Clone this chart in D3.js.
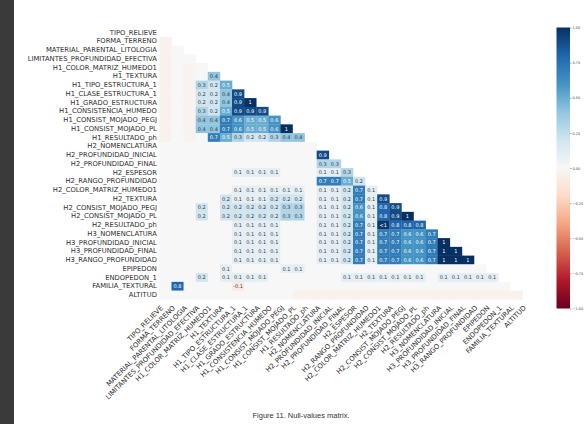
<!DOCTYPE html>
<html><head><meta charset="utf-8">
<script src="https://cdn.jsdelivr.net/npm/d3@7"></script>
<style>
html,body{margin:0;padding:0;background:#fff;}
svg{display:block;}
</style></head>
<body>
<svg id="chart" width="585" height="424"></svg>
<script>
// ---- data ----
const labels = [
  "TIPO_RELIEVE","FORMA_TERRENO","MATERIAL_PARENTAL_LITOLOGIA","LIMITANTES_PROFUNDIDAD_EFECTIVA",
  "H1_COLOR_MATRIZ_HUMEDO1","H1_TEXTURA","H1_TIPO_ESTRUCTURA_1","H1_CLASE_ESTRUCTURA_1",
  "H1_GRADO_ESTRUCTURA","H1_CONSISTENCIA_HUMEDO","H1_CONSIST_MOJADO_PEGJ","H1_CONSIST_MOJADO_PL",
  "H1_RESULTADO_ph","H2_NOMENCLATURA","H2_PROFUNDIDAD_INICIAL","H2_PROFUNDIDAD_FINAL",
  "H2_ESPESOR","H2_RANGO_PROFUNDIDAD","H2_COLOR_MATRIZ_HUMEDO1","H2_TEXTURA",
  "H2_CONSIST_MOJADO_PEGJ","H2_CONSIST_MOJADO_PL","H2_RESULTADO_ph","H3_NOMENCLATURA",
  "H3_PROFUNDIDAD_INICIAL","H3_PROFUNDIDAD_FINAL","H3_RANGO_PROFUNDIDAD","EPIPEDON",
  "ENDOPEDON_1","FAMILIA_TEXTURAL","ALTITUD"
];

// lower triangle of the nullity correlation matrix: row i holds columns 0..i-1
const nullityCorr = [
  [],
  [-0.04],
  [-0.04,0],
  [-0.04,0,0],
  [-0.04,0,-0.03,0],
  [-0.04,0,-0.03,0,0.4],
  [-0.04,0,-0.03,0.3,0.2,0.5],
  [-0.04,0,-0.03,0.2,0.2,0.4,0.9],
  [-0.04,0,-0.03,0.2,0.2,0.4,0.9,1],
  [-0.04,0,-0.03,0.3,0.2,0.5,0.9,0.9,0.9],
  [-0.04,0,-0.03,0.4,0.4,0.7,0.6,0.5,0.5,0.6],
  [-0.04,0,-0.03,0.4,0.4,0.7,0.6,0.5,0.5,0.6,1],
  [-0.04,0,-0.03,0,0.7,0.5,0.3,0.2,0.2,0.3,0.4,0.4],
  [0,0,0,0,0,0,0,0,0,0,0,0,0],
  [0,0,0,0,0,0,0,0,0,0,0,0,0,0.9],
  [0,0,0,0,0,0,0,0,0,0,0,0,0,0.3,0.3],
  [0,0,0,0,0,0,0.1,0.1,0.1,0.1,0,0,0,0.1,0.1,0.3],
  [0,0,0,0,0,0,0,0,0,0,0,0,0,0.7,0.7,0.5,0.2],
  [0,0,0,0,0,0,0.1,0.1,0.1,0.1,0.1,0.1,0,0.1,0.1,0.2,0.7,0.1],
  [0,0,0,0,0,0.2,0.1,0.1,0.1,0.2,0.2,0.2,0,0.1,0.1,0.2,0.7,0.1,0.9],
  [0,0,0,0.2,0,0.2,0.2,0.2,0.2,0.2,0.3,0.3,0,0.1,0.1,0.2,0.6,0.1,0.8,0.9],
  [0,0,0,0.2,0,0.2,0.2,0.2,0.2,0.2,0.3,0.3,0,0.1,0.1,0.2,0.6,0.1,0.8,0.9,1],
  [0,0,0,0,0,0,0.1,0.1,0.1,0.1,0,0,0,0.1,0.1,0.2,0.7,0.1,0.97,0.8,0.8,0.8],
  [0,0,0,0,0,0,0.1,0.1,0.1,0.1,0,0,0,0.1,0.1,0.2,0.7,0.1,0.7,0.7,0.6,0.6,0.7],
  [0,0,0,0,0,0,0.1,0.1,0.1,0.1,0,0,0,0.1,0.1,0.2,0.7,0.1,0.7,0.7,0.6,0.6,0.7,1],
  [0,0,0,0,0,0,0.1,0.1,0.1,0.1,0,0,0,0.1,0.1,0.2,0.7,0.1,0.7,0.7,0.6,0.6,0.7,1,1],
  [0,0,0,0,0,0,0.1,0.1,0.1,0.1,0,0,0,0.1,0.1,0.2,0.7,0.1,0.7,0.7,0.6,0.6,0.7,1,1,1],
  [0,0,0,0,0,0.1,0,0,0,0,0.1,0.1,0,0,0,0,0,0,0,0,0,0,0,0,0,0,0],
  [0,0,0,0.2,0,0.1,0.1,0.1,0.1,0,0,0,0,0,0,0.1,0.1,0.1,0.1,0.1,0.1,0.1,0,0.1,0.1,0.1,0.1,0.1],
  [0,0.8,0,0,0,0,-0.1,0,0,0,0,0,0,0,0,0,0,0,0,0,0,0,0,0,0,0,0,0,0],
  [0,0,0,0,0,0,0,0,0,0,0,-0.045,-0.045,-0.045,-0.045,-0.045,-0.045,-0.045,-0.045,-0.045,-0.045,-0.045,-0.045,-0.045,-0.045,-0.045,-0.045,-0.045,-0.045,-0.045]
];

const colorbarTicks = [-1, -0.75, -0.5, -0.25, 0, 0.25, 0.5, 0.75, 1];
const rdbuColors = ["#67001f","#b2182b","#d6604d","#f4a582","#fddbc7","#f7f7f7","#d1e5f0","#92c5de","#4393c3","#2166ac","#053061"];
const caption = "Figure 11. Null-values matrix.";

// ---- layout ----
const W = 585, H = 424;
const hm = {x0: 159.4, x1: 159.4 + 31 * 12.1, y0: 28.1, y1: 28.1 + 31 * 8.75};
const cb = {x: 556.5, w: 13.5, top: 27.5, bottom: 308.5};

const svg = d3.select("#chart");
svg.append("rect").attr("width", W).attr("height", H).attr("fill", "#fff");
svg.append("rect").attr("x", 0).attr("y", 0).attr("width", 14).attr("height", H).attr("fill", "#3a3a3a");

const x = d3.scaleBand().domain(labels).range([hm.x0, hm.x1]);
const y = d3.scaleBand().domain(labels).range([hm.y0, hm.y1]);
const color = d3.scaleLinear()
  .domain(d3.range(rdbuColors.length).map(i => -1 + 2 * i / (rdbuColors.length - 1)))
  .range(rdbuColors).interpolate(d3.interpolateRgb).clamp(true);

function lum(c) {
  const rgb = d3.rgb(c);
  const f = v => { v /= 255; return v <= 0.03928 ? v / 12.92 : Math.pow((v + 0.055) / 1.055, 2.4); };
  return 0.2126 * f(rgb.r) + 0.7152 * f(rgb.g) + 0.0722 * f(rgb.b);
}
function annot(v) {
  if (v === 1) return "1";
  if (v === -1) return "-1";
  if (v >= 0.95 && v < 1) return "<1";
  if (v <= -0.95 && v > -1) return ">-1";
  if (Math.abs(v) < 0.05) return "";
  return String(Math.round(v * 10) / 10);
}

const cells = [];
nullityCorr.forEach((row, i) => row.forEach((v, j) => cells.push({r: labels[i], c: labels[j], v})));

const g = svg.append("g");
g.selectAll("rect.cell").data(cells).join("rect")
  .attr("class", "cell")
  .attr("x", d => x(d.c)).attr("y", d => y(d.r))
  .attr("width", x.bandwidth() + 0.3).attr("height", y.bandwidth() + 0.3)
  .attr("fill", d => color(d.v));

g.selectAll("text.ann").data(cells.filter(d => annot(d.v) !== "")).join("text")
  .attr("class", "ann")
  .attr("x", d => x(d.c) + x.bandwidth() / 2)
  .attr("y", d => y(d.r) + y.bandwidth() / 2)
  .attr("dy", "0.36em")
  .attr("text-anchor", "middle")
  .attr("font-family", "DejaVu Sans")
  .attr("font-size", 5)
  .attr("fill", d => lum(color(d.v)) > 0.408 ? "#3a3a3a" : "#ffffff")
  .text(d => annot(d.v));

// y axis
const yAxis = svg.append("g").attr("transform", `translate(${hm.x0},0)`)
  .call(d3.axisLeft(y).tickSize(0).tickPadding(2.5));
yAxis.select(".domain").remove();
yAxis.selectAll("text").attr("font-family", "DejaVu Sans").attr("font-size", 6.8).attr("fill", "#2e2e2e");

// x axis
const xAxis = svg.append("g").attr("transform", `translate(0,${hm.y1})`)
  .call(d3.axisBottom(x).tickSize(0));
xAxis.select(".domain").remove();
xAxis.selectAll("text")
  .attr("y", null).attr("dy", null)
  .attr("text-anchor", "end")
  .attr("transform", "translate(-2,9) rotate(-45)")
  .attr("font-family", "DejaVu Sans").attr("font-size", 6.8).attr("fill", "#2e2e2e");

// colorbar
const defs = svg.append("defs");
const grad = defs.append("linearGradient").attr("id", "cbgrad")
  .attr("x1", 0).attr("y1", 1).attr("x2", 0).attr("y2", 0);
d3.range(0, 1.0001, 0.02).forEach(t => {
  grad.append("stop").attr("offset", t).attr("stop-color", color(-1 + 2 * t));
});
svg.append("rect").attr("x", cb.x).attr("y", cb.top).attr("width", cb.w).attr("height", cb.bottom - cb.top)
  .attr("fill", "url(#cbgrad)");
const cbScale = d3.scaleLinear().domain([-1, 1]).range([cb.bottom, cb.top]);
const cbAxis = svg.append("g").attr("transform", `translate(${cb.x + cb.w},0)`)
  .call(d3.axisRight(cbScale).tickValues(colorbarTicks).tickFormat(d3.format(".2f")).tickSize(1.5).tickPadding(1));
cbAxis.select(".domain").remove();
cbAxis.selectAll("line").attr("stroke", "#555").attr("stroke-width", 0.5);
cbAxis.selectAll("text").attr("font-family", "DejaVu Sans").attr("font-size", 3.5).attr("fill", "#444");

// caption
svg.append("text").attr("x", 301).attr("y", 418).attr("text-anchor", "middle")
  .attr("font-family", "Liberation Sans, Arial, sans-serif").attr("font-size", 7.5).attr("fill", "#333")
  .text(caption);
</script>
</body></html>
